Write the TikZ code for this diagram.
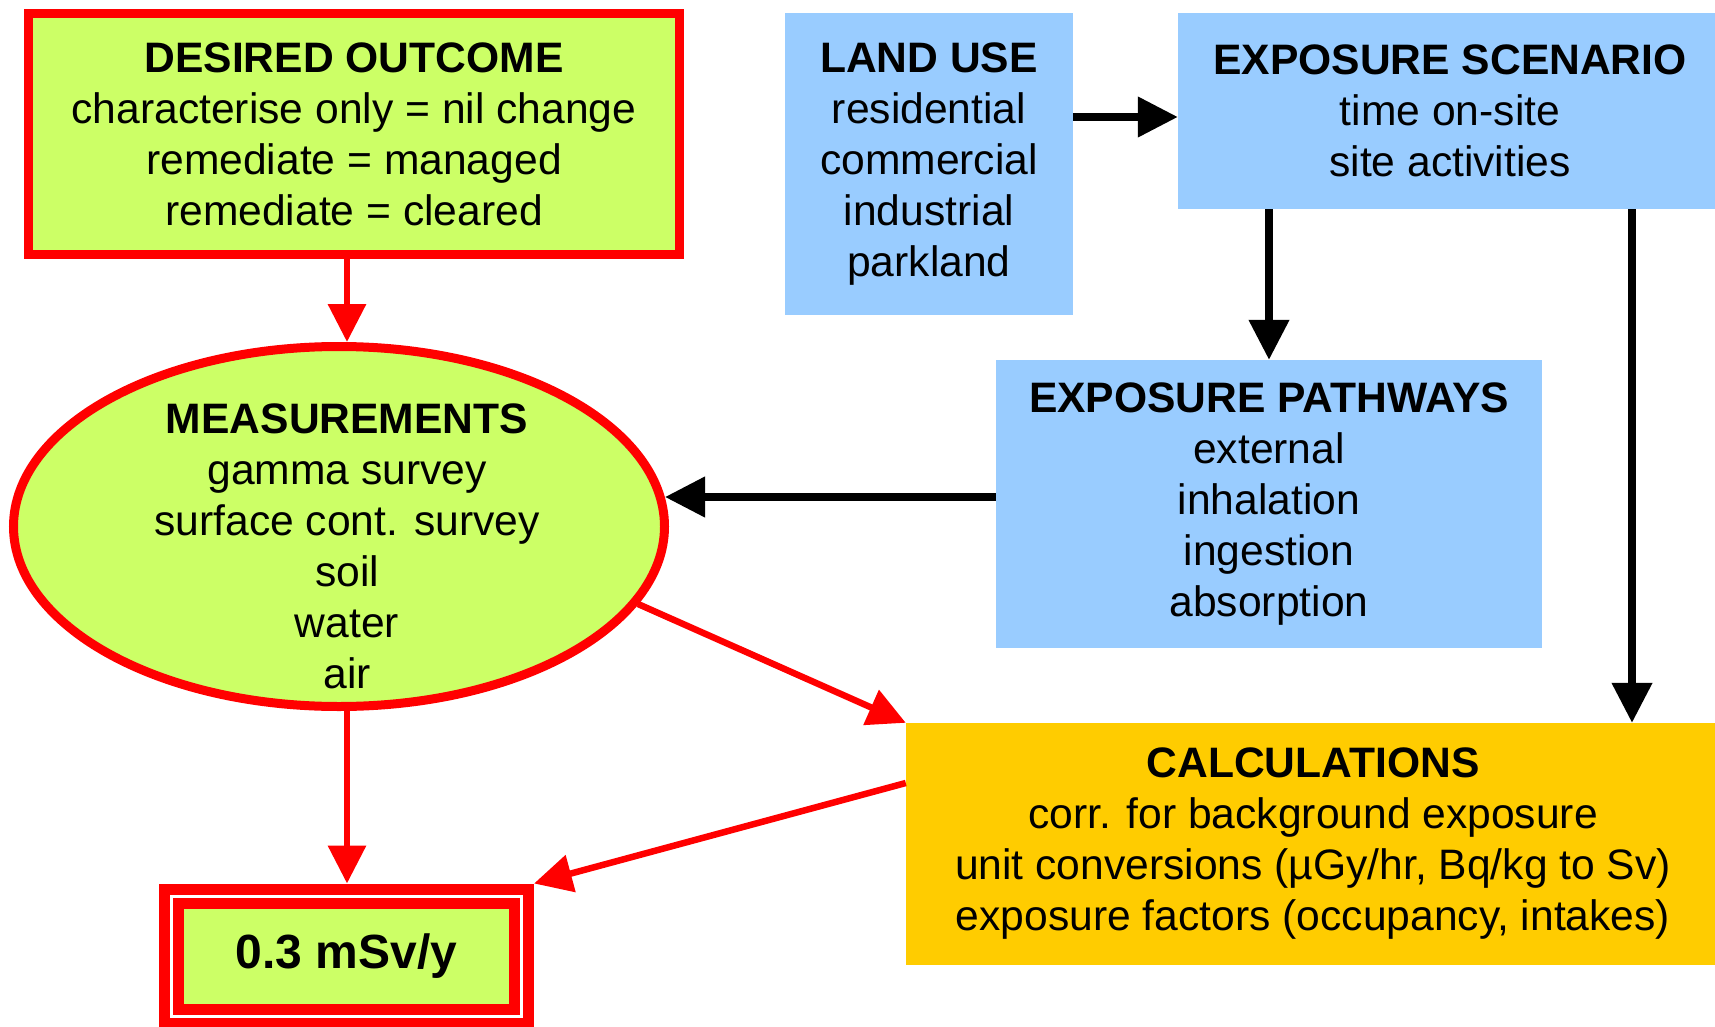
\documentclass[tikz,border=0pt]{standalone}
\usepackage{fontspec}
\setmainfont{Liberation Sans}
\usetikzlibrary{arrows.meta,shapes.geometric,calc}
\definecolor{lgreen}{HTML}{CCFF66}
\definecolor{lblue}{HTML}{99CCFF}
\definecolor{gold}{HTML}{FFCC00}
\definecolor{pred}{HTML}{FF0000}
\begin{document}
\begin{tikzpicture}[x=1pt,y=-1pt,
  txt/.style={font=\fontsize{42.6}{51}\selectfont, align=center, inner sep=0pt},
  greenbox/.style={txt, draw=pred, line width=9pt, fill=lgreen},
  bluebox/.style={txt, fill=lblue},
  goldbox/.style={txt, fill=gold},
  blk/.style={line width=7.5pt, -{Triangle[length=40pt,width=39pt]}},
  redarr/.style={draw=pred, line width=6.5pt, -{Triangle[length=38pt,width=37pt]}}]
\useasboundingbox (0,0) rectangle (1715,1027);

\node[greenbox, minimum width=651pt, minimum height=241pt] (do) at (354,134)
  {\textbf{DESIRED OUTCOME}\\characterise only = nil change\\remediate = managed\\remediate = cleared};

\node[ellipse, draw=pred, line width=9pt, fill=lgreen, inner sep=0pt,
  minimum width=651pt, minimum height=360pt] (meas) at (339,526.5) {};
\node[txt] (meastxt) at (347,546)
  {\textbf{MEASUREMENTS}\\gamma survey\\surface cont. survey\\soil\\water\\air};

\node[draw=pred, line width=11pt, double=white, double distance=3pt, fill=lgreen,
  outer sep=12.5pt, inner sep=0pt, minimum width=350pt, minimum height=120pt,
  font=\fontsize{48}{51}\selectfont\bfseries] (dose) at (346.5,956) {0.3 mSv/y};

\node[bluebox, minimum width=288pt, minimum height=302pt] (land) at (929,164)
  {\textbf{LAND USE}\\residential\\commercial\\industrial\\parkland};
\node[bluebox, minimum width=544pt, minimum height=196pt] (scen) at (1450,111)
  {\textbf{EXPOSURE SCENARIO}\\time on-site\\site activities};
\node[bluebox, minimum width=546pt, minimum height=288pt] (path) at (1269,504)
  {\textbf{EXPOSURE PATHWAYS}\\external\\inhalation\\ingestion\\absorption};
\node[goldbox, minimum width=814pt, minimum height=242pt] (calc) at (1313,844)
  {\textbf{CALCULATIONS}\\corr. for background exposure\\unit conversions (µGy/hr, Bq/kg to Sv)\\exposure factors (occupancy, intakes)};

% black connectors
\coordinate (lsy) at (0,117);
\draw[blk] (land.east |- lsy) -- (scen.west |- lsy);
\draw[blk] (scen.south -| path.north) -- (path.north);
\coordinate (cx) at (1632,0);
\draw[blk] (scen.south -| cx) -- (calc.north -| cx);
\coordinate (pm) at (665,497);
\draw[blk] (path.west |- pm) -- (pm);

% red connectors
\draw[redarr] (do.south -| meastxt) -- (meas.north -| meastxt);
\draw[redarr] (meas.south -| meastxt) -- (dose.north -| meastxt);
\coordinate (ms) at (638,604);
\draw[redarr] (ms) -- (calc.north west);
\coordinate (cy) at (0,783);
\draw[redarr] (calc.west |- cy) -- (dose.north east);
\end{tikzpicture}
\end{document}
